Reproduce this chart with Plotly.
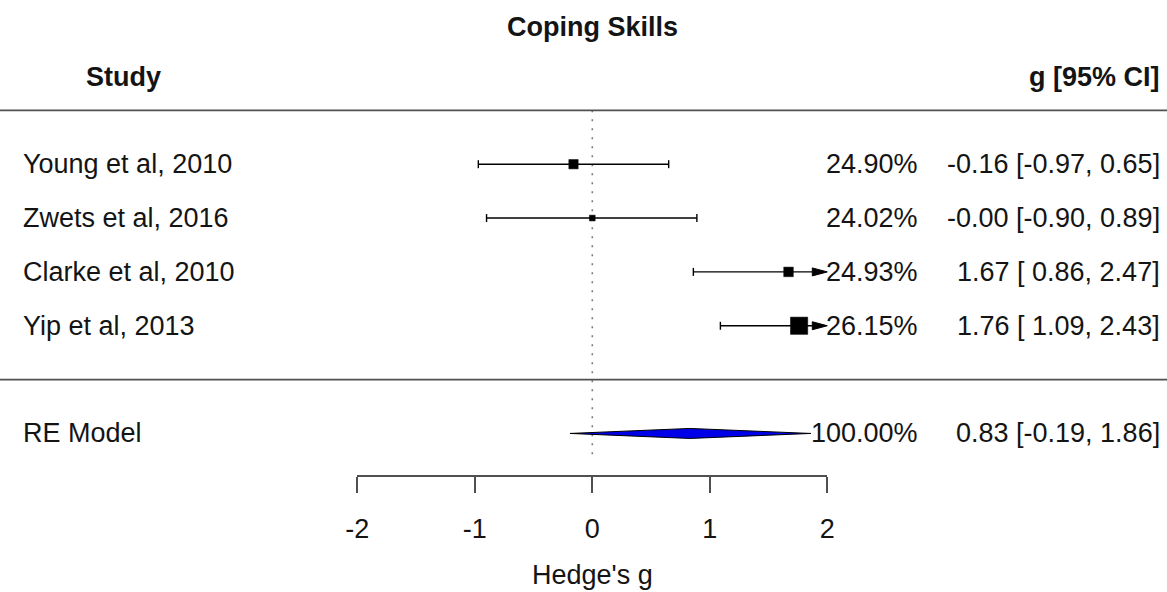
import numpy as np
import plotly.graph_objects as go

# ---- data -------------------------------------------------------------
studies = ["Young et al, 2010", "Zwets et al, 2016", "Clarke et al, 2010", "Yip et al, 2013"]
g_est = [-0.16, -0.00, 1.67, 1.76]
ci_lo = [-0.97, -0.90, 0.86, 1.09]
ci_hi = [0.65, 0.89, 2.47, 2.43]
weight_pct = [24.90, 24.02, 24.93, 26.15]

re_label = "RE Model"
re_est, re_lo, re_hi, re_weight = 0.83, -0.19, 1.86, 100.00

axis_ticks = [-2, -1, 0, 1, 2]
title_text = "Coping Skills"
xlabel_text = "Hedge's g"

# ---- geometry ---------------------------------------------------------
W, H = 1167, 592
PX0, PXU = 592.3, 117.5          # pixel of g=0 and pixels per unit g
PY0, PYU = 379.6, 53.85          # pixel of row 0 and pixels per row
XR = [(0 - PX0) / PXU, (W - PX0) / PXU]
YR = [(PY0 - H) / PYU, PY0 / PYU]
XLIM = (axis_ticks[0], axis_ticks[-1])

k = len(studies)
rows = list(range(k, 0, -1))     # first study on top
re_row = -1

FONT = "Liberation Sans, Arial, Helvetica, sans-serif"
FS = 27
TXT = "#141414"
GREY = "#505050"


def px_x(p):
    return (p - PX0) / PXU


def px_y(p):
    return (PY0 - p) / PYU


cap_h = 4.0 / PYU
arr_len = 15.0 / PXU
arr_h = 4.0 / PYU
dia_h = 5.0 / PYU

fig = go.Figure()

# reference line at g = 0
fig.add_trace(go.Scatter(x=[0, 0], y=[k + 1, re_row - 0.5], mode="lines",
                         line=dict(color="#7a7a7a", width=1.6, dash="2px,7px"),
                         hoverinfo="skip", showlegend=False))

# confidence intervals, caps and arrows for bounds beyond the axis limits
seg_x, seg_y = [], []
arrows = []
for r, lo, hi in zip(rows, ci_lo, ci_hi):
    left = max(lo, XLIM[0])
    right = min(hi, XLIM[1])
    right_line = right - arr_len if hi > XLIM[1] else right
    seg_x += [left, right_line, None]
    seg_y += [r, r, None]
    if lo >= XLIM[0]:
        seg_x += [lo, lo, None]
        seg_y += [r - cap_h, r + cap_h, None]
    if hi <= XLIM[1]:
        seg_x += [hi, hi, None]
        seg_y += [r - cap_h, r + cap_h, None]
    else:
        arrows.append(r)

fig.add_trace(go.Scatter(x=seg_x, y=seg_y, mode="lines",
                         line=dict(color="black", width=1.4),
                         hoverinfo="skip", showlegend=False))

for r in arrows:
    tip = XLIM[1]
    fig.add_trace(go.Scatter(x=[tip - arr_len, tip, tip - arr_len, tip - arr_len],
                             y=[r + arr_h, r, r - arr_h, r + arr_h],
                             mode="lines", fill="toself", fillcolor="black",
                             line=dict(color="black", width=1),
                             hoverinfo="skip", showlegend=False))

# point estimates, square size scaled by precision
se = (np.array(ci_hi) - np.array(ci_lo)) / (2 * 1.96)
wi = 1 / se
psize = (wi - wi.min()) / (wi.max() - wi.min()) + 0.5
fig.add_trace(go.Scatter(x=g_est, y=rows, mode="markers",
                         marker=dict(symbol="square", color="black", opacity=1,
                                     size=(11.5 * psize).tolist(),
                                     line=dict(width=0.5, color="black")),
                         hoverinfo="skip", showlegend=False))

# summary diamond
fig.add_trace(go.Scatter(x=[re_lo, re_est, re_hi, re_est, re_lo],
                         y=[re_row, re_row + dia_h, re_row, re_row - dia_h, re_row],
                         mode="lines", fill="toself", fillcolor="#0000e8",
                         line=dict(color="black", width=1),
                         hoverinfo="skip", showlegend=False))

# bottom axis
fig.add_trace(go.Scatter(x=list(XLIM), y=[None, None], xaxis="x2", yaxis="y",
                         mode="markers", hoverinfo="skip", showlegend=False))

# separators
for yy in (k + 1, 0):
    fig.add_shape(type="line", xref="paper", x0=0, x1=1, yref="y", y0=yy, y1=yy,
                  line=dict(color=GREY, width=1.6))


def fmt_ci(est, lo, hi):
    return f"{est:.2f} [{lo:5.2f}, {hi:.2f}]".replace("[ ", "[&nbsp;")


ann = []
label_x = px_x(21)
pct_x = px_x(920)
ci_x = px_x(1162)
for r, name, est, lo, hi, w in zip(rows, studies, g_est, ci_lo, ci_hi, weight_pct):
    ann.append(dict(x=label_x, y=r, text=name, xanchor="left"))
    ann.append(dict(x=pct_x, y=r, text=f"{w:.2f}%", xanchor="right"))
    ann.append(dict(x=ci_x, y=r, text=fmt_ci(est, lo, hi), xanchor="right"))
ann.append(dict(x=label_x, y=re_row, text=re_label, xanchor="left"))
ann.append(dict(x=pct_x, y=re_row, text=f"{re_weight:.2f}%", xanchor="right"))
ann.append(dict(x=ci_x, y=re_row, text=fmt_ci(re_est, re_lo, re_hi), xanchor="right"))

ann.append(dict(x=0, y=px_y(27), text=f"<b>{title_text}</b>", xanchor="center"))
ann.append(dict(x=px_x(84), y=px_y(77), text="<b>Study</b>", xanchor="left"))
ann.append(dict(x=ci_x, y=px_y(77), text="<b>g [95% CI]</b>", xanchor="right"))

for a in ann:
    a.update(xref="x", yref="y", yanchor="middle", showarrow=False,
             font=dict(family=FONT, size=FS, color=TXT))

fig.update_layout(
    width=W, height=H, autosize=False,
    margin=dict(l=0, r=0, t=0, b=0, pad=0),
    paper_bgcolor="white", plot_bgcolor="rgba(0,0,0,0)",
    showlegend=False,
    annotations=ann,
    xaxis=dict(range=XR, visible=False, fixedrange=True, automargin=False),
    yaxis=dict(range=YR, visible=False, fixedrange=True, automargin=False),
    xaxis2=dict(domain=[(PX0 + XLIM[0] * PXU) / W, (PX0 + XLIM[1] * PXU) / W],
                range=list(XLIM), anchor="free", position=1 - 476 / H,
                automargin=False,
                showline=True, linecolor=GREY, linewidth=1.6,
                ticks="outside", ticklen=16, tickwidth=1.6, tickcolor=GREY,
                tickvals=axis_ticks, ticktext=[str(t) for t in axis_ticks],
                ticklabelstandoff=13,
                tickfont=dict(family=FONT, size=FS, color=TXT),
                showgrid=False, zeroline=False, fixedrange=True,
                title=dict(text=xlabel_text, standoff=21,
                           font=dict(family=FONT, size=FS, color=TXT))),
)

fig.write_html("out.html")
